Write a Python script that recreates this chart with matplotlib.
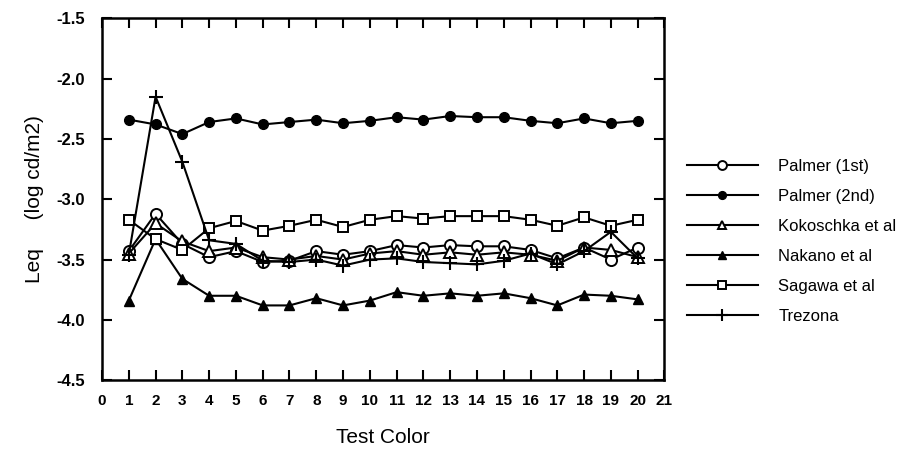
import matplotlib
matplotlib.use("Agg")
import matplotlib.pyplot as plt

plt.rcParams['font.family'] = ['Liberation Sans', 'DejaVu Sans']

# test colour index
colors_x = list(range(1, 21))

# Leq values (log cd/m2)
palmer_1st = [-3.43, -3.12, -3.37, -3.48, -3.43, -3.52, -3.51, -3.43, -3.46, -3.43,
              -3.38, -3.40, -3.38, -3.39, -3.39, -3.42, -3.49, -3.40, -3.50, -3.40]
palmer_2nd = [-2.34, -2.38, -2.46, -2.36, -2.33, -2.38, -2.36, -2.34, -2.37, -2.35,
              -2.32, -2.34, -2.31, -2.32, -2.32, -2.35, -2.37, -2.33, -2.37, -2.35]
kokoschka = [-3.45, -3.20, -3.35, -3.43, -3.40, -3.48, -3.50, -3.47, -3.50, -3.45,
             -3.43, -3.46, -3.44, -3.46, -3.44, -3.46, -3.51, -3.40, -3.42, -3.48]
nakano = [-3.84, -3.33, -3.66, -3.80, -3.80, -3.88, -3.88, -3.82, -3.88, -3.84,
          -3.77, -3.80, -3.78, -3.80, -3.78, -3.82, -3.88, -3.79, -3.80, -3.83]
sagawa = [-3.17, -3.33, -3.42, -3.24, -3.18, -3.26, -3.22, -3.17, -3.23, -3.17,
          -3.14, -3.16, -3.14, -3.14, -3.14, -3.17, -3.22, -3.15, -3.22, -3.17]
trezona = [-3.46, -2.15, -2.69, -3.34, -3.37, -3.51, -3.52, -3.50, -3.55, -3.50,
           -3.49, -3.52, -3.53, -3.54, -3.51, -3.45, -3.54, -3.43, -3.27, -3.49]

x_labels = [str(i) for i in range(0, 22)]
y_ticks = [-1.5, -2.0, -2.5, -3.0, -3.5, -4.0, -4.5]

fig = plt.figure(figsize=(9.19, 4.57), dpi=100)
ax = fig.add_axes([0.111, 0.168, 0.612, 0.792])

lw = 1.5
ax.plot(colors_x, palmer_1st, '-o', color='black', lw=lw, ms=8, mfc='white', mew=1.4, label='Palmer (1st)', zorder=3)
ax.plot(colors_x, palmer_2nd, '-o', color='black', lw=lw, ms=7, mfc='black', label='Palmer (2nd)', zorder=3)
ax.plot(colors_x, kokoschka, '-^', color='black', lw=lw, ms=8, mfc='white', mew=1.4, label='Kokoschka et al', zorder=3)
ax.plot(colors_x, nakano, '-^', color='black', lw=lw, ms=7, mfc='black', label='Nakano et al', zorder=3)
ax.plot(colors_x, sagawa, '-s', color='black', lw=lw, ms=7, mfc='white', mew=1.4, label='Sagawa et al', zorder=3)
ax.plot(colors_x, trezona, '-+', color='black', lw=lw, ms=10, mew=1.5, label='Trezona', zorder=3)

ax.set_xlim(0, 21)
ax.set_ylim(-4.5, -1.5)
ax.set_xticks(range(0, 22))
ax.set_xticklabels(x_labels, fontweight='bold', fontsize=11)
ax.set_yticks(y_ticks)
ax.set_yticklabels(['%.1f' % v for v in y_ticks], fontweight='bold', fontsize=12)
ax.tick_params(direction='in', length=7, width=1.5, top=True, right=True)
ax.tick_params(axis='y', pad=12)
ax.tick_params(axis='x', pad=10)
for s in ax.spines.values():
    s.set_linewidth(1.8)

ax.set_xlabel('Test Color', fontsize=15, labelpad=14)
ax.set_ylabel('Leq     (log cd/m2)', fontsize=15, labelpad=9)

fig.legend(loc='upper left', bbox_to_anchor=(0.738, 0.67), frameon=False,
           fontsize=12, handlelength=4.3, handletextpad=1.2, labelspacing=0.9,
           borderpad=0, markerscale=0.8)

fig.savefig('out.png', dpi=100)
